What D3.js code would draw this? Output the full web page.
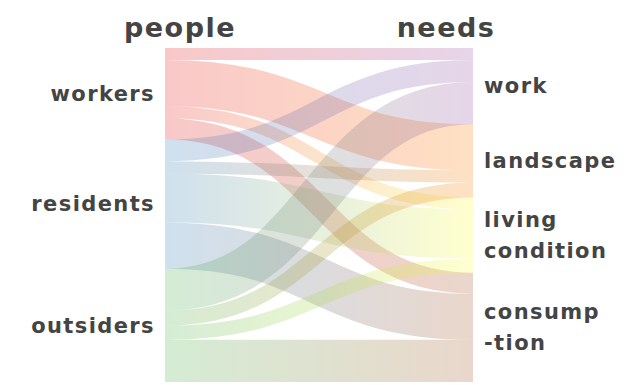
<!DOCTYPE html>
<html>
<head>
<meta charset="utf-8">
<script src="https://cdn.jsdelivr.net/npm/d3@7"></script>
<style>
  body { margin: 0; background: #fff; }
  text { font-family: "DejaVu Sans", sans-serif; font-weight: bold; fill: #444; }
</style>
</head>
<body>
<script>
// people on the left, needs on the right
const people = ["workers", "residents", "outsiders"];
const needs = ["work", "landscape", "living condition", "consumption"];
const needLabels = [["work"], ["landscape"], ["living", "condition"], ["consump", "-tion"]];

// flow values, one row per group of people, in the order of needs
const workersFlows   = [12, 46, 12, 21];
const residentsFlows = [22, 12, 49, 46];
const outsidersFlows = [42, 15, 14, 42];

const width = 643;
const height = 385;
const x0 = 165, x1 = 473;

const flows = [workersFlows, residentsFlows, outsidersFlows];
const links = [];
flows.forEach((row, i) => row.forEach((v, j) => links.push({ source: i, target: j, value: v })));

const total = d3.sum(links, d => d.value);
const y = d3.scaleLinear().domain([0, total]).range([48, 382]);
const color = d3.scaleOrdinal().domain(people.concat(needs)).range(d3.schemeSet1);

// stack the nodes
const leftNodes = people.map((name, i) => ({ name, value: d3.sum(flows[i]) }));
const rightNodes = needs.map((name, j) => ({ name, value: d3.sum(flows, r => r[j]) }));
function stack(nodes) {
  let acc = 0;
  nodes.forEach(n => { n.y0 = acc; acc += n.value; n.y1 = acc; n.off = n.y0; });
}
stack(leftNodes);
stack(rightNodes);

// link positions: at the source sorted by target, at the target sorted by source
leftNodes.forEach((n, i) => {
  links.filter(l => l.source === i).forEach(l => { l.s = n.off + l.value / 2; n.off += l.value; });
});
rightNodes.forEach((n, j) => {
  links.filter(l => l.target === j).forEach(l => { l.t = n.off + l.value / 2; n.off += l.value; });
});

const svg = d3.select("body").append("svg")
  .attr("width", width)
  .attr("height", height);

const defs = svg.append("defs");
links.forEach((l, k) => {
  const g = defs.append("linearGradient")
    .attr("id", "grad" + k)
    .attr("gradientUnits", "userSpaceOnUse")
    .attr("x1", x0).attr("x2", x1);
  g.append("stop").attr("offset", "0%").attr("stop-color", color(people[l.source]));
  g.append("stop").attr("offset", "100%").attr("stop-color", color(needs[l.target]));
});

const linkPath = d3.linkHorizontal()
  .source(d => [x0, y(d.s)])
  .target(d => [x1, y(d.t)]);

svg.append("g")
  .attr("fill", "none")
  .attr("stroke-opacity", 0.24)
  .selectAll("path")
  .data(links)
  .join("path")
  .attr("d", linkPath)
  .attr("stroke", (d, k) => `url(#grad${k})`)
  .attr("stroke-width", d => y(d.value) - y(0));

// column titles
svg.append("text").attr("x", 180).attr("y", 37).attr("text-anchor", "middle")
  .style("font-size", "27px").style("letter-spacing", "1.5px").text("people");
svg.append("text").attr("x", 446).attr("y", 37).attr("text-anchor", "middle")
  .style("font-size", "27px").style("letter-spacing", "1.5px").text("needs");

// left labels
svg.append("g").selectAll("text")
  .data(leftNodes)
  .join("text")
  .attr("x", 155)
  .attr("y", d => y((d.y0 + d.y1) / 2))
  .attr("dy", "0.35em")
  .attr("text-anchor", "end")
  .style("font-size", "21px")
  .style("letter-spacing", "1.4px")
  .text(d => d.name);

// right labels, some on two lines
const lineH = 31;
svg.append("g").selectAll("text")
  .data(rightNodes)
  .join("text")
  .attr("x", 484)
  .attr("y", d => y((d.y0 + d.y1) / 2))
  .style("font-size", "21px")
  .style("letter-spacing", "1.4px")
  .each(function (d, j) {
    const lines = needLabels[j];
    d3.select(this).selectAll("tspan")
      .data(lines)
      .join("tspan")
      .attr("x", 484)
      .attr("dy", (t, i) => i === 0 ? (0.35 * 21 - (lines.length - 1) * lineH / 2) : lineH)
      .text(t => t);
  });
</script>
</body>
</html>
